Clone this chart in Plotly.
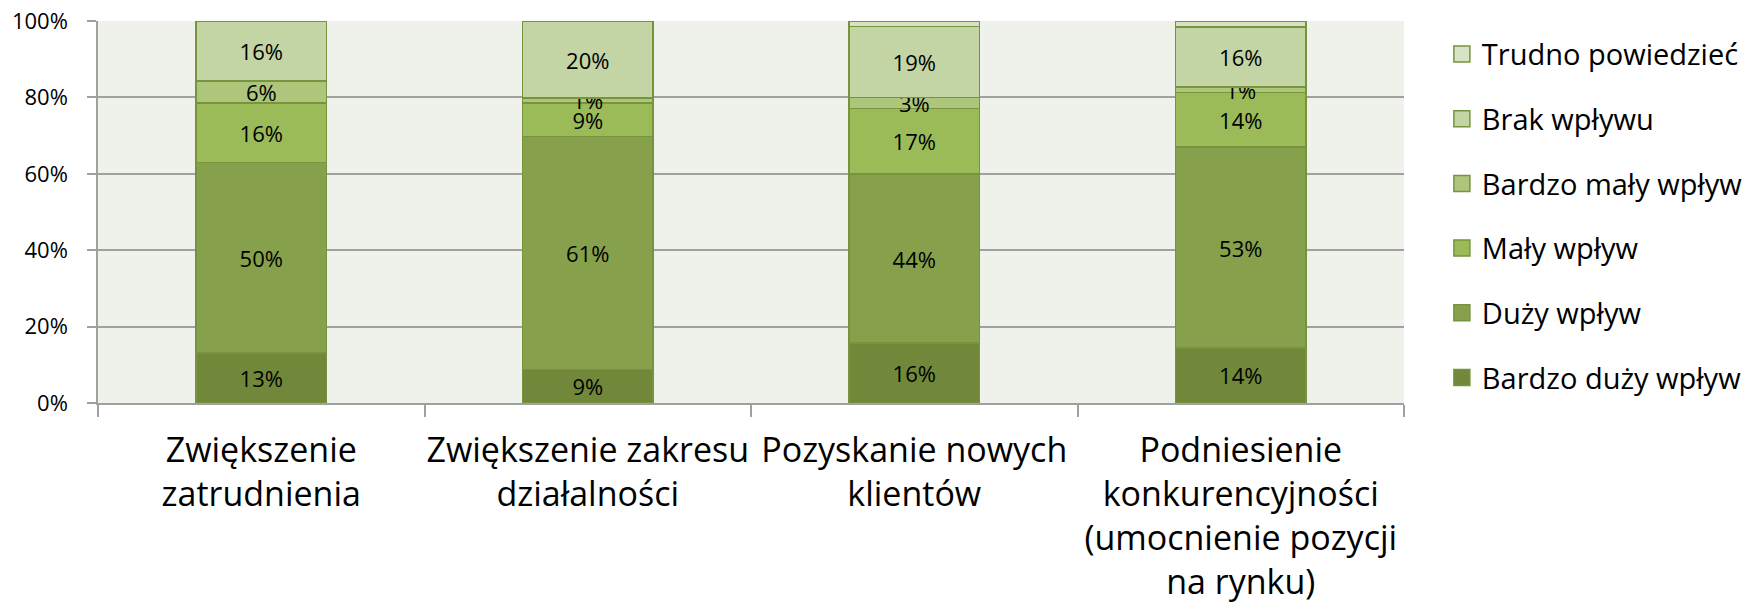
import plotly.graph_objects as go

categories = [
    "Zwiększenie<br>zatrudnienia",
    "Zwiększenie zakresu<br>działalności",
    "Pozyskanie nowych<br>klientów",
    "Podniesienie<br>konkurencyjności<br>(umocnienie pozycji<br>na rynku)",
]

series_names = [
    "Bardzo duży wpływ",
    "Duży wpływ",
    "Mały wpływ",
    "Bardzo mały wpływ",
    "Brak wpływu",
    "Trudno powiedzieć",
]

bardzo_duzy = [13.1, 8.8, 15.7, 14.4]
duzy = [49.8, 61.0, 44.2, 52.6]
maly = [15.6, 8.8, 17.2, 14.3]
bardzo_maly = [5.8, 1.2, 2.9, 1.4]
brak = [15.7, 20.2, 18.6, 15.7]
trudno = [0.0, 0.0, 1.4, 1.6]

values = [bardzo_duzy, duzy, maly, bardzo_maly, brak, trudno]
show_labels = [True, True, True, True, True, False]
legend_ranks = [6, 5, 4, 3, 2, 1]

colors = ["#71883B", "#86A04B", "#9BBB59", "#AEC67C", "#C3D4A5", "#D7E3C4"]
border = "#77933C"

FONT = "Open Sans"

fig = go.Figure()
for name, vals, col, lab, rank in zip(series_names, values, colors, show_labels, legend_ranks):
    text = [f"{v:.0f}%" if lab else "" for v in vals]
    fig.add_trace(go.Bar(
        x=categories, y=vals, name=name, legendgroup=name, showlegend=False,
        marker=dict(color=col, line=dict(color=border, width=1.5)),
        text=text, textposition="inside", insidetextanchor="middle",
        textangle=0, constraintext="none",
        textfont=dict(family=FONT, size=22, color="#000000"),
        hoverinfo="skip",
    ))
    # legend entry with a larger square swatch
    fig.add_trace(go.Scatter(
        x=[None], y=[None], mode="markers", name=name, legendgroup=name,
        legendrank=rank, showlegend=True,
        marker=dict(symbol="square", size=20, color=col,
                    line=dict(color=border, width=1.5)),
        hoverinfo="skip",
    ))

fig.update_layout(
    barmode="stack",
    bargap=0.6,
    width=1750, height=603,
    margin=dict(l=98, r=346, t=21, b=200, autoexpand=False),
    paper_bgcolor="white",
    plot_bgcolor="#EFF2EA",
    font=dict(family=FONT, size=22, color="#000000"),
    legend=dict(
        x=1.029, y=0.980, xanchor="left", yanchor="top",
        traceorder="grouped", tracegroupgap=24,
        font=dict(family=FONT, size=29, color="#000000"),
        bgcolor="rgba(0,0,0,0)",
        maxheight=580, itemsizing="trace",
    ),
    showlegend=True,
)

fig.update_yaxes(
    range=[0, 100], tickvals=[0, 20, 40, 60, 80, 100],
    ticktext=["0%", "20%", "40%", "60%", "80%", "100%"],
    showgrid=True, gridcolor="#A0A0A0", gridwidth=1.5,
    showline=True, linecolor="#A0A0A0", linewidth=1.5,
    ticks="outside", ticklen=9, tickcolor="#A0A0A0", tickwidth=1.5,
    ticklabelstandoff=15,
    tickfont=dict(family=FONT, size=22),
    zeroline=False, automargin=False,
)
fig.update_xaxes(
    type="category", tickangle=0,
    showline=True, linecolor="#A0A0A0", linewidth=1.5,
    ticks="outside", tickson="boundaries", ticklen=12,
    tickcolor="#A0A0A0", tickwidth=1.5,
    ticklabelstandoff=16,
    tickfont=dict(family=FONT, size=34),
    showgrid=False, automargin=False,
)

fig.write_html(
    "out.html",
    config={"displayModeBar": False},
    post_script="document.body.style.margin='0';document.body.style.overflow='hidden';",
)
